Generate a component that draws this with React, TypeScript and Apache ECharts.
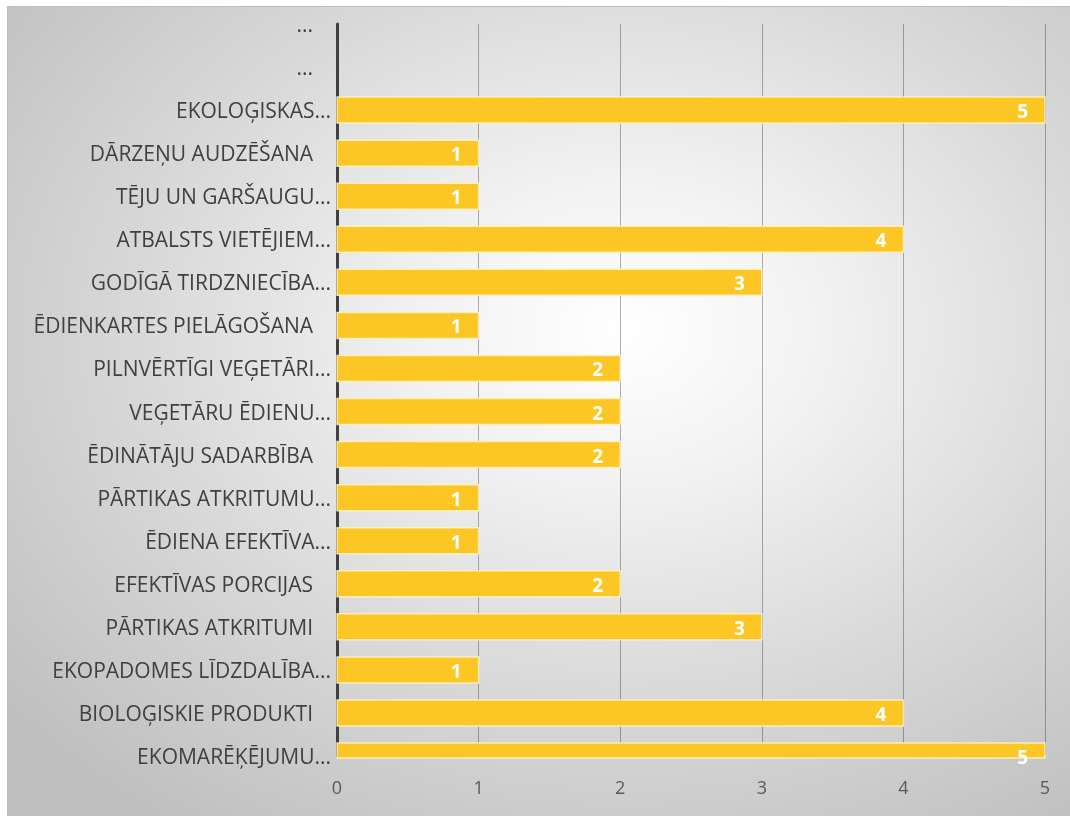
import React, { useEffect, useRef } from "react";
import * as echarts from "echarts";

const categories: string[] = [
  "...",
  "...",
  "EKOLOĢISKAS...",
  "DĀRZEŅU AUDZĒŠANA",
  "TĒJU UN GARŠAUGU...",
  "ATBALSTS VIETĒJIEM...",
  "GODĪGĀ TIRDZNIECĪBA...",
  "ĒDIENKARTES PIELĀGOŠANA",
  "PILNVĒRTĪGI VEĢETĀRI...",
  "VEĢETĀRU ĒDIENU...",
  "ĒDINĀTĀJU SADARBĪBA",
  "PĀRTIKAS ATKRITUMU...",
  "ĒDIENA EFEKTĪVA...",
  "EFEKTĪVAS PORCIJAS",
  "PĀRTIKAS ATKRITUMI",
  "EKOPADOMES LĪDZDALĪBA...",
  "BIOLOĢISKIE PRODUKTI",
  "EKOMARĒĶĒJUMU...",
];

const values: (number | null)[] = [
  null, null, 5, 1, 1, 4, 3, 1, 2, 2, 2, 1, 1, 2, 3, 1, 4, 5,
];

const xTicks = [0, 1, 2, 3, 4, 5];

export default function App() {
  const ref = useRef<HTMLDivElement>(null);

  useEffect(() => {
    if (!ref.current) return;
    const chart = echarts.init(ref.current, undefined, { renderer: "svg" });
    const barData = values
      .map((v, i) => (v == null ? null : [v, i]))
      .filter((d) => d !== null);
    chart.setOption({
      animation: false,
      backgroundColor: "transparent",
      grid: { left: 329, top: 17, width: 708, height: 732, containLabel: false },
      xAxis: {
        type: "value",
        min: xTicks[0],
        max: xTicks[xTicks.length - 1],
        interval: 1,
        axisLine: { show: false },
        axisTick: { show: false },
        splitLine: { show: true, lineStyle: { color: "rgba(0,0,0,0.3)", width: 1 } },
        axisLabel: {
          color: "#595959",
          fontSize: 18,
          fontFamily: "Open Sans",
          margin: 22,
        },
      },
      yAxis: {
        type: "category",
        data: categories,
        inverse: true,
        boundaryGap: false,
        axisLine: { show: true, lineStyle: { color: "#404040", width: 3 } },
        axisTick: { show: false },
        splitLine: { show: false },
        axisLabel: {
          interval: 0,
          margin: 6,
          formatter: (v: string) => {
            const trunc = v.endsWith("...") && v.length > 3;
            return trunc ? `{t|${v}}` : `{p|${v}}`;
          },
          rich: {
            t: { color: "#404040", fontSize: 21, fontFamily: "Open Sans" },
            p: {
              color: "#404040",
              fontSize: 21,
              fontFamily: "Open Sans",
              padding: [0, 18, 0, 0],
            },
          },
        },
      },
      series: [
        {
          type: "custom",
          encode: { x: 0, y: 1 },
          data: barData,
          renderItem: (params: any, api: any) => {
            const v = api.value(0);
            const ci = api.value(1);
            const start = api.coord([0, ci]);
            const end = api.coord([v, ci]);
            const h = 26;
            const cs = params.coordSys;
            const rect = echarts.graphic.clipRectByRect(
              { x: start[0], y: start[1] - h / 2, width: end[0] - start[0], height: h },
              { x: cs.x, y: cs.y, width: cs.width, height: cs.height + 2 }
            );
            return {
              type: "group",
              children: [
                {
                  type: "rect",
                  shape: rect,
                  style: {
                    fill: "#FCC624",
                    stroke: "rgba(255,245,200,0.8)",
                    lineWidth: 1.5,
                  },
                },
                {
                  type: "text",
                  x: end[0] - 17,
                  y: end[1] + 1,
                  style: {
                    text: String(v),
                    fill: "#ffffff",
                    fontSize: 19,
                    fontWeight: "bold",
                    fontFamily: "Open Sans",
                    align: "right",
                    verticalAlign: "middle",
                  },
                },
              ],
            };
          },
        },
      ],
    });
    return () => chart.dispose();
  }, []);

  return (
    <div
      style={{
        position: "fixed",
        left: 7,
        top: 6,
        width: 1063,
        height: 810,
        background:
          "radial-gradient(ellipse 75% 75% at 58% 40%, #ffffff 0%, #f2f2f2 25%, #d9d9d9 60%, #bfbfbf 100%)",
        borderTop: "1px solid #bdbdbd",
        borderLeft: "1px solid #bdbdbd",
        boxSizing: "border-box",
      }}
    >
      <div ref={ref} style={{ width: "100%", height: "100%" }} />
    </div>
  );
}
